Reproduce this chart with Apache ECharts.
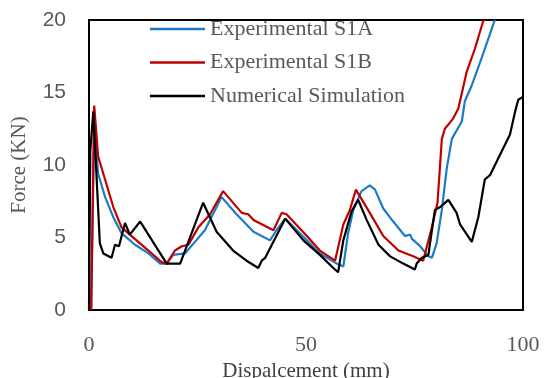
<!DOCTYPE html>
<html><head><meta charset="utf-8">
<script src="https://cdn.jsdelivr.net/npm/echarts@6/dist/echarts.min.js"></script>
<style>html,body{margin:0;padding:0;background:#fff}#c{width:544px;height:378px}</style>
</head><body><div id="c"></div>
<script>
var seriesNames = ['Experimental S1A', 'Experimental S1B', 'Numerical Simulation'];
var xTicks = [0, 50, 100];
var yTicks = [0, 5, 10, 15, 20];

var s1aX = [0.5,1.2,2.1,3.7,5.6,7.5,10.6,13.7,16.4,17.9,19.4,22.1,24.4,26.7,29.4,30.5,34,37.9,41.7,43.2,45.2,50.2,53.2,57.1,58.6,59.7,60.9,62.8,64.7,65.9,67.8,70.1,72.8,74,74.4,76.3,78.2,79,80.1,81.3,82.4,83.6,85.9,86.6,88.2,90.5,93.5];
var s1aY = [0,13.0,9.4,7.8,6.4,5.3,4.5,3.9,3.2,3.2,3.8,3.9,4.7,5.5,7.1,7.8,6.6,5.4,4.8,5.5,6.3,4.8,3.9,3.2,3.0,5.3,6.9,8.2,8.6,8.3,7.0,6.1,5.1,5.2,4.9,4.4,3.7,3.6,4.6,6.9,9.7,11.8,13.0,14.4,15.5,17.4,20];

var s1bX = [0.5,1.2,2.1,3.7,5.6,7.5,9.8,13.7,16.7,17.9,19.8,21.4,22.9,25.2,27.9,30.9,35.2,36.7,37.9,42.5,44.4,45.5,50.2,53.2,56.7,58.6,60.1,61.5,64.7,67.8,71.3,74.7,77,79,80.3,81.3,82,83.9,85.1,87,88.9,90.9];
var s1bY = [0,14.1,10.6,9.0,7.1,5.7,5.1,4.1,3.3,3.2,4.1,4.4,4.5,5.7,6.6,8.2,6.7,6.6,6.2,5.5,6.7,6.6,5.1,4.1,3.4,5.9,6.9,8.3,6.7,5.1,4.1,3.7,3.4,5.7,7.4,11.8,12.5,13.2,13.9,16.4,18.0,20];

var simX = [0,0.3,1.0,2.5,3.3,5.2,6.0,6.9,8.3,9.4,11.8,17.9,21,26.3,29.4,33.2,36.3,39,39.8,40.6,45.2,49.4,53.2,56.3,57.4,58.6,60.5,62,64,66.7,69.4,72.4,75.1,75.5,76.7,78.2,79.7,80.9,82.8,84.7,85.5,88.2,89.7,91.2,92.4,94.7,97,98.2,98.9,100];
var simY = [0,11,13.7,4.6,3.9,3.6,4.5,4.4,6.0,5.2,6.1,3.2,3.2,7.4,5.4,4.1,3.4,2.9,3.4,3.6,6.3,4.8,3.8,2.9,2.6,4.8,6.8,7.6,6.2,4.5,3.7,3.2,2.8,3.2,3.6,3.8,6.9,7.1,7.6,6.7,5.9,4.7,6.4,9.0,9.3,10.7,12.1,13.7,14.5,14.7];

function zip(a, b) { return a.map(function (v, i) { return [v, b[i]]; }); }

var colors = ['#1B7BC9', '#C00000', '#000000'];
var chart = echarts.init(document.getElementById('c'));
chart.setOption({
  animation: false,
  grid: { left: 89, top: 20, right: 21, bottom: 68, outerBoundsMode: 'none', containLabel: false, show: true, borderColor: '#000', borderWidth: 2, backgroundColor: 'transparent' },
  legend: {
    orient: 'vertical', left: 150, top: 18, padding: 0, itemWidth: 55, itemHeight: 2.5, itemGap: 11.5,
    icon: 'rect',
    data: seriesNames,
    textStyle: { fontFamily: 'Liberation Serif', fontSize: 22, lineHeight: 22, color: '#595959' }
  },
  xAxis: {
    type: 'value', min: xTicks[0], max: xTicks[xTicks.length - 1], interval: 50,
    name: 'Dispalcement (mm)', nameLocation: 'middle', nameGap: 38,
    nameTextStyle: { fontFamily: 'Liberation Serif', fontSize: 21, color: '#404040' },
    axisLine: { show: false }, axisTick: { show: false }, splitLine: { show: false },
    axisLabel: { fontFamily: 'Liberation Serif', fontSize: 22, color: '#595959', margin: 24 }
  },
  yAxis: {
    type: 'value', min: yTicks[0], max: yTicks[yTicks.length - 1], interval: 5,
    name: 'Force (KN)', nameLocation: 'middle', nameGap: 59, nameRotate: 90,
    nameTextStyle: { fontFamily: 'Liberation Serif', fontSize: 21, color: '#595959' },
    axisLine: { show: false }, axisTick: { show: false }, splitLine: { show: false },
    axisLabel: { fontFamily: 'Liberation Sans', fontSize: 21, color: '#595959', margin: 23 }
  },
  series: [
    { name: seriesNames[0], type: 'line', data: zip(s1aX, s1aY), symbol: 'none', lineStyle: { width: 2.2, color: colors[0] }, itemStyle: { color: colors[0] }, z: 3 },
    { name: seriesNames[1], type: 'line', data: zip(s1bX, s1bY), symbol: 'none', lineStyle: { width: 2.2, color: colors[1] }, itemStyle: { color: colors[1] }, z: 4 },
    { name: seriesNames[2], type: 'line', data: zip(simX, simY), symbol: 'none', lineStyle: { width: 2.2, color: colors[2] }, itemStyle: { color: colors[2] }, z: 5 }
  ]
});
</script></body></html>
